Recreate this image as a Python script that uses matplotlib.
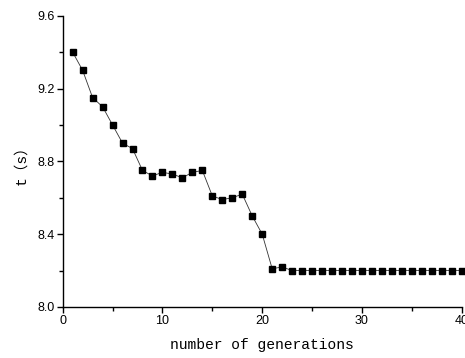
import numpy as np
import matplotlib
matplotlib.use("Agg")
import matplotlib.pyplot as plt
from matplotlib.ticker import MultipleLocator

# du lieu doc tu hinh
generations = list(range(1, 41))
t_values = [9.40, 9.30, 9.15, 9.10, 9.00, 8.90, 8.87, 8.75, 8.72, 8.74,
            8.73, 8.71, 8.74, 8.75, 8.61, 8.59, 8.60, 8.62, 8.50, 8.40,
            8.21, 8.22] + [8.20] * 18
x_ticks = [0, 10, 20, 30, 40]
y_ticks = [8.0, 8.4, 8.8, 9.2, 9.6]

fig = plt.figure(figsize=(4.65, 3.58), dpi=100)
ax = fig.add_axes([0.1348, 0.1425, 0.8582, 0.8135])

ax.plot(generations, t_values, color="#333333", linewidth=0.6,
        marker="s", markersize=4.5, markerfacecolor="black",
        markeredgecolor="black", clip_on=False)

ax.set_xlim(0, 40)
ax.set_ylim(8.0, 9.6)
ax.set_xticks(x_ticks)
ax.set_yticks(y_ticks)
ax.set_yticklabels([f"{v:.1f}" for v in y_ticks])
ax.xaxis.set_minor_locator(MultipleLocator(5))
ax.yaxis.set_minor_locator(MultipleLocator(0.2))

for s in ["top", "right"]:
    ax.spines[s].set_visible(False)
for s in ["left", "bottom"]:
    ax.spines[s].set_linewidth(1.0)

ax.tick_params(which="major", direction="out", length=4, width=1,
               labelsize=9, pad=2)
ax.tick_params(which="minor", direction="out", length=3, width=1)
for lab in ax.get_xticklabels() + ax.get_yticklabels():
    lab.set_family("Liberation Sans")

ax.set_xlabel("number of generations", family=["Liberation Mono", "Noto Sans CJK SC"],
              fontsize=10.5, labelpad=8)
ax.set_ylabel("t（s）", family=["Liberation Mono", "Noto Sans CJK SC"],
              fontsize=10.5, labelpad=6)

fig.savefig("out.png", dpi=100)
